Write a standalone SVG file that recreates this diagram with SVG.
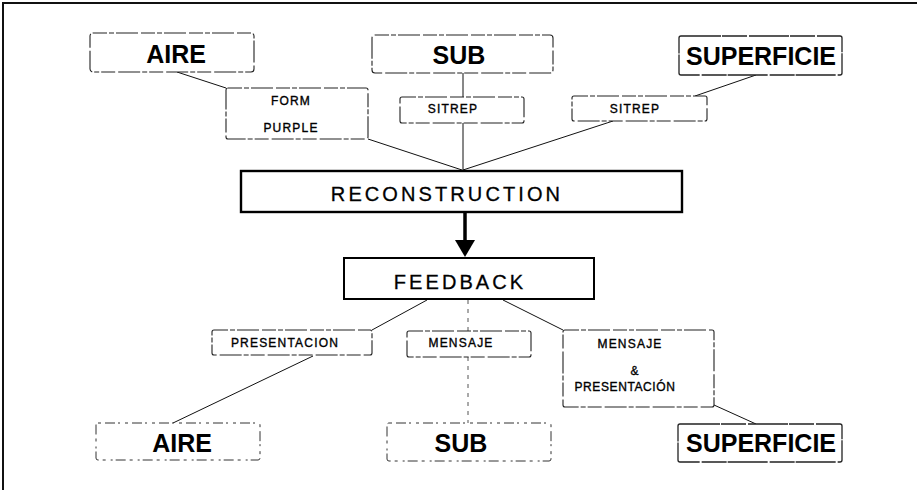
<svg xmlns="http://www.w3.org/2000/svg" width="917" height="490" viewBox="0 0 917 490">
  <style>
    .bg { fill: #ffffff; }
    .frame { fill: none; stroke: #111; stroke-width: 2; }
    .dash { fill: #fff; stroke: #222; stroke-width: 1.1; stroke-dasharray: 14 2 5 2 22 3; }
    .dash-soft { fill: #fff; stroke: #333; stroke-width: 1; stroke-dasharray: 3 4 10 3 2 5; }
    .solidish { fill: #fff; stroke: #222; stroke-width: 1.3; stroke-dasharray: 40 1 25 2; }
    .main { fill: #fff; stroke: #000; stroke-width: 2.4; }
    .big { font-family: "Liberation Sans", Arial, sans-serif; font-weight: bold; font-size: 25px; fill: #000; text-anchor: middle; }
    .mid { font-family: "Liberation Sans", Arial, sans-serif; font-size: 20px; fill: #000; stroke: #000; stroke-width: 0.3; text-anchor: middle; letter-spacing: 3.1px; }
    .small { font-family: "Liberation Sans", Arial, sans-serif; font-size: 12px; fill: #000; stroke: #000; stroke-width: 0.35; text-anchor: middle; letter-spacing: 1.2px; }
    .link { fill: none; stroke: #111; stroke-width: 1; }
    .link-dash { fill: none; stroke: #555; stroke-width: 1; stroke-dasharray: 4 5; }
    .flow { fill: none; stroke: #000; stroke-width: 3.5; }
  </style>

  <rect class="bg" x="0" y="0" width="917" height="490"/>
  <!-- page frame: top and left edges only -->
  <path class="frame" d="M3,490 V3 H917"/>

  <!-- connectors -->
  <g id="connectors">
    <line class="link" x1="177" y1="72" x2="226" y2="88"/>
    <line class="link" x1="368" y1="139" x2="462" y2="170"/>
    <line class="link" x1="463" y1="73" x2="463" y2="97"/>
    <line class="link" x1="463" y1="123" x2="463" y2="170"/>
    <line class="link" x1="756" y1="75" x2="695" y2="96"/>
    <line class="link" x1="613" y1="121" x2="463" y2="170"/>

    <line class="flow" x1="465" y1="212" x2="465" y2="242"/>
    <polygon points="455,240 475,240 465,257" fill="#000"/>

    <line class="link" x1="427" y1="300" x2="372" y2="330"/>
    <line class="link-dash" x1="468" y1="300" x2="468" y2="331"/>
    <line class="link-dash" x1="468" y1="357" x2="468" y2="423"/>
    <line class="link" x1="503" y1="300" x2="563" y2="330"/>
    <line class="link" x1="313" y1="356" x2="173" y2="423"/>
    <line class="link" x1="714" y1="405" x2="756" y2="424"/>
  </g>

  <!-- top row -->
  <g id="aire-top">
    <rect class="dash" x="90" y="33" width="164" height="39" rx="3"/>
    <text class="big" x="176" y="63">AIRE</text>
  </g>
  <g id="sub-top">
    <rect class="dash" x="372" y="35" width="181" height="38" rx="3"/>
    <text class="big" x="459" y="64">SUB</text>
  </g>
  <g id="superficie-top">
    <rect class="solidish" x="679" y="36" width="163" height="39" rx="2"/>
    <text class="big" x="761" y="65">SUPERFICIE</text>
  </g>

  <!-- report labels -->
  <g id="form-purple">
    <rect class="dash" x="226" y="88" width="142" height="51" rx="2"/>
    <text class="small" x="291" y="105">FORM</text>
    <text class="small" x="291" y="132">PURPLE</text>
  </g>
  <g id="sitrep-sub">
    <rect class="dash" x="400" y="97" width="124" height="26" rx="2"/>
    <text class="small" x="453" y="113">SITREP</text>
  </g>
  <g id="sitrep-superficie">
    <rect class="dash" x="572" y="96" width="135" height="25" rx="2"/>
    <text class="small" x="635" y="113">SITREP</text>
  </g>

  <!-- central process -->
  <g id="reconstruction">
    <rect class="main" x="241" y="171" width="441" height="41"/>
    <text class="mid" x="447" y="201">RECONSTRUCTION</text>
  </g>
  <g id="feedback">
    <rect class="main" x="344" y="258" width="250" height="41" style="stroke-width:2"/>
    <text class="mid" x="460" y="289">FEEDBACK</text>
  </g>

  <!-- outgoing labels -->
  <g id="presentacion">
    <rect class="dash" x="212" y="330" width="160" height="25" rx="2"/>
    <text class="small" x="285" y="347">PRESENTACION</text>
  </g>
  <g id="mensaje">
    <rect class="dash" x="407" y="331" width="124" height="26" rx="2"/>
    <text class="small" x="461" y="347">MENSAJE</text>
  </g>
  <g id="mensaje-presentacion">
    <rect class="dash" x="563" y="330" width="151" height="77" rx="2"/>
    <text class="small" x="630" y="348">MENSAJE</text>
    <text class="small" x="635" y="375">&amp;</text>
    <text class="small" x="625" y="391" style="letter-spacing:0.6px">PRESENTACIÓN</text>
  </g>

  <!-- bottom row -->
  <g id="aire-bottom">
    <rect class="dash-soft" x="96" y="423" width="164" height="37" rx="2"/>
    <text class="big" x="182" y="452">AIRE</text>
  </g>
  <g id="sub-bottom">
    <rect class="dash-soft" x="387" y="423" width="164" height="38" rx="2"/>
    <text class="big" x="461" y="452">SUB</text>
  </g>
  <g id="superficie-bottom">
    <rect class="solidish" x="678" y="424" width="164" height="38" rx="2"/>
    <text class="big" x="761" y="452">SUPERFICIE</text>
  </g>
</svg>
